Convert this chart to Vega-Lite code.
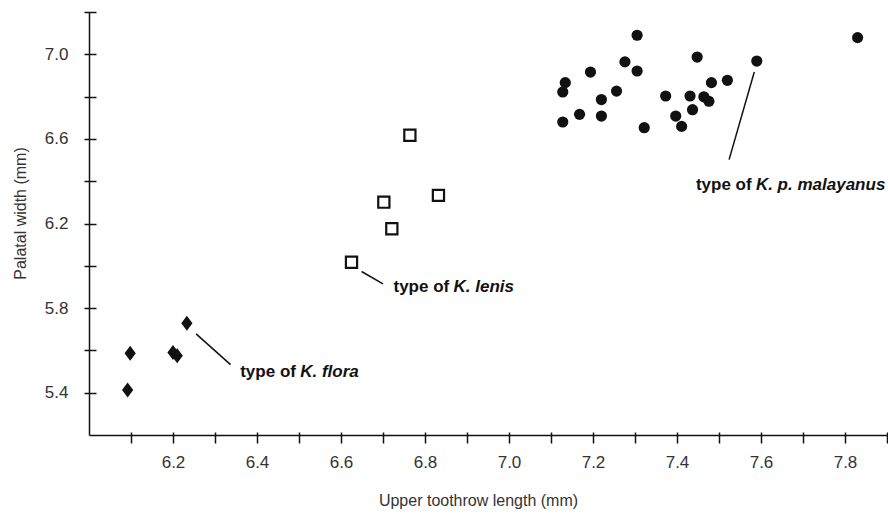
{
  "$schema": "https://vega.github.io/schema/vega-lite/v6.json",
  "width": 798,
  "height": 423,
  "autosize": "none",
  "padding": {"left": 89, "top": 12, "right": 1, "bottom": 83},
  "background": "white",
  "config": {"view": {"stroke": null}, "font": "Liberation Sans"},
  "datasets": {
    "pts": [
      {"g": "flora", "len": 6.098, "wid": 5.586},
      {"g": "flora", "len": 6.092, "wid": 5.413},
      {"g": "flora", "len": 6.200, "wid": 5.590},
      {"g": "flora", "len": 6.210, "wid": 5.575},
      {"g": "flora", "len": 6.233, "wid": 5.728},
      {"g": "lenis", "len": 6.764, "wid": 6.617},
      {"g": "lenis", "len": 6.832, "wid": 6.333},
      {"g": "lenis", "len": 6.702, "wid": 6.301},
      {"g": "lenis", "len": 6.721, "wid": 6.175},
      {"g": "lenis", "len": 6.625, "wid": 6.017},
      {"g": "malayanus", "len": 7.305, "wid": 7.090},
      {"g": "malayanus", "len": 7.448, "wid": 6.987},
      {"g": "malayanus", "len": 7.276, "wid": 6.964},
      {"g": "malayanus", "len": 7.305, "wid": 6.921},
      {"g": "malayanus", "len": 7.194, "wid": 6.916},
      {"g": "malayanus", "len": 7.134, "wid": 6.866},
      {"g": "malayanus", "len": 7.128, "wid": 6.822},
      {"g": "malayanus", "len": 7.482, "wid": 6.866},
      {"g": "malayanus", "len": 7.256, "wid": 6.826},
      {"g": "malayanus", "len": 7.220, "wid": 6.786},
      {"g": "malayanus", "len": 7.373, "wid": 6.803},
      {"g": "malayanus", "len": 7.431, "wid": 6.803},
      {"g": "malayanus", "len": 7.464, "wid": 6.799},
      {"g": "malayanus", "len": 7.476, "wid": 6.778},
      {"g": "malayanus", "len": 7.168, "wid": 6.716},
      {"g": "malayanus", "len": 7.128, "wid": 6.680},
      {"g": "malayanus", "len": 7.220, "wid": 6.708},
      {"g": "malayanus", "len": 7.397, "wid": 6.708},
      {"g": "malayanus", "len": 7.437, "wid": 6.738},
      {"g": "malayanus", "len": 7.322, "wid": 6.653},
      {"g": "malayanus", "len": 7.411, "wid": 6.659},
      {"g": "malayanus", "len": 7.590, "wid": 6.968},
      {"g": "malayanus", "len": 7.830, "wid": 7.079},
      {"g": "malayanus", "len": 7.520, "wid": 6.877}
    ],
    "leaders": [
      {"x": 6.255, "y": 5.678, "x2": 6.337, "y2": 5.533},
      {"x": 6.649, "y": 5.973, "x2": 6.700, "y2": 5.915},
      {"x": 7.584, "y": 6.916, "x2": 7.524, "y2": 6.502}
    ],
    "labels": [
      {"x": 6.360, "y": 5.498, "plain": "type of", "ital": "K. flora"},
      {"x": 6.725, "y": 5.901, "plain": "type of", "ital": "K. lenis"},
      {"x": 7.445, "y": 6.382, "plain": "type of", "ital": "K. p. malayanus"}
    ]
  },
  "resolve": {"axis": {"x": "independent", "y": "independent"}},
  "layer": [
    {
      "data": {"name": "pts"},
      "transform": [{"filter": "datum.g === 'flora'"}],
      "mark": {"type": "point", "shape": "M0,-1L0.75,0L0,1L-0.75,0Z", "filled": true, "color": "#111", "opacity": 1, "size": 225},
      "encoding": {
        "x": {"field": "len", "type": "quantitative", "scale": {"domain": [6.0, 7.9], "nice": false, "zero": false},
          "axis": {"orient": "bottom", "title": "Upper toothrow length (mm)", "values": [6.2, 6.4, 6.6, 6.8, 7.0, 7.2, 7.4, 7.6, 7.8], "format": ".1f",
            "grid": false, "ticks": false, "tickSize": 0, "domainColor": "#111", "domainWidth": 1.5,
            "labelFont": "Liberation Sans", "labelFontSize": 17, "labelColor": "#333", "labelPadding": 19,
            "titleFont": "Liberation Sans", "titleFontSize": 16, "titleFontWeight": "normal", "titleColor": "#333", "titlePadding": 22, "titleX": 389}},
        "y": {"field": "wid", "type": "quantitative", "scale": {"domain": [5.2, 7.2], "nice": false, "zero": false},
          "axis": {"orient": "left", "title": "Palatal width (mm)", "values": [5.4, 5.8, 6.2, 6.6, 7.0], "format": ".1f",
            "grid": false, "ticks": false, "tickSize": 0, "domainColor": "#111", "domainWidth": 1.5,
            "labelFont": "Liberation Sans", "labelFontSize": 17, "labelColor": "#333", "labelPadding": 21,
            "titleFont": "Liberation Sans", "titleFontSize": 16, "titleFontWeight": "normal", "titleColor": "#333", "titlePadding": 16, "titleY": 201}}
      }
    },
    {
      "data": {"name": "pts"},
      "transform": [{"filter": "datum.g === 'malayanus'"}],
      "mark": {"type": "point", "shape": "circle", "filled": true, "color": "#111", "opacity": 1, "size": 125},
      "encoding": {
        "x": {"field": "len", "type": "quantitative", "scale": {"domain": [6.0, 7.9], "nice": false, "zero": false},
          "axis": {"orient": "bottom", "title": null, "values": [6.1, 6.2, 6.3, 6.4, 6.5, 6.6, 6.7, 6.8, 6.9, 7.0, 7.1, 7.2, 7.3, 7.4, 7.5, 7.6, 7.7, 7.8, 7.9],
            "grid": false, "domain": false, "labels": false, "ticks": true, "tickSize": 11, "tickWidth": 1.5, "tickColor": "#111", "offset": -3}},
        "y": {"field": "wid", "type": "quantitative", "scale": {"domain": [5.2, 7.2], "nice": false, "zero": false},
          "axis": {"orient": "left", "title": null, "values": [5.4, 5.6, 5.8, 6.0, 6.2, 6.4, 6.6, 6.8, 7.0, 7.2],
            "grid": false, "domain": false, "labels": false, "ticks": true, "tickSize": 12, "tickWidth": 1.5, "tickColor": "#111", "offset": -7}}
      }
    },
    {
      "data": {"name": "pts"},
      "transform": [{"filter": "datum.g === 'lenis'"}],
      "mark": {"type": "point", "shape": "square", "filled": false, "color": "#111", "opacity": 1, "strokeWidth": 2.2, "size": 125},
      "encoding": {
        "x": {"field": "len", "type": "quantitative", "axis": null},
        "y": {"field": "wid", "type": "quantitative", "axis": null}
      }
    },
    {
      "data": {"name": "leaders"},
      "mark": {"type": "rule", "color": "#111", "strokeWidth": 1.5},
      "encoding": {
        "x": {"field": "x", "type": "quantitative", "axis": null},
        "y": {"field": "y", "type": "quantitative", "axis": null},
        "x2": {"field": "x2"},
        "y2": {"field": "y2"}
      }
    },
    {
      "data": {"name": "labels"},
      "mark": {"type": "text", "align": "left", "baseline": "middle", "font": "Liberation Sans", "fontSize": 17, "fontWeight": "bold", "color": "#111"},
      "encoding": {
        "x": {"field": "x", "type": "quantitative", "axis": null},
        "y": {"field": "y", "type": "quantitative", "axis": null},
        "text": {"field": "plain"}
      }
    },
    {
      "data": {"name": "labels"},
      "mark": {"type": "text", "align": "left", "baseline": "middle", "font": "Liberation Sans", "fontSize": 17, "fontWeight": "bold", "fontStyle": "italic", "color": "#111", "dx": 60},
      "encoding": {
        "x": {"field": "x", "type": "quantitative", "axis": null},
        "y": {"field": "y", "type": "quantitative", "axis": null},
        "text": {"field": "ital"}
      }
    }
  ]
}
